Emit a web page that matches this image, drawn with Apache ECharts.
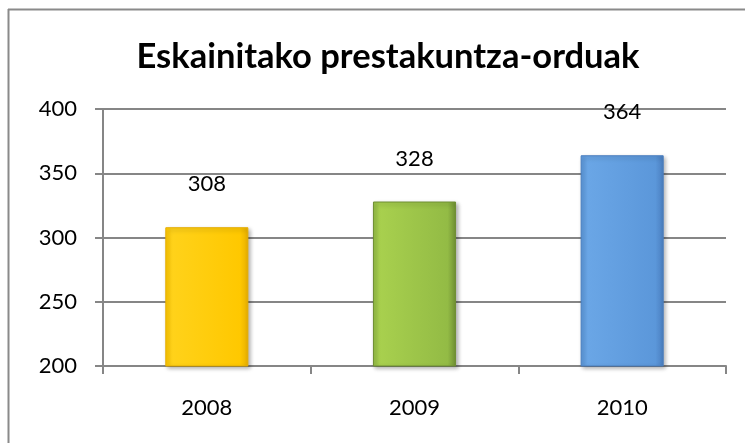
<!DOCTYPE html>
<html>
<head>
<meta charset="utf-8">
<script src="https://cdn.jsdelivr.net/npm/echarts@6/dist/echarts.min.js"></script>
<style>
  html, body { margin: 0; padding: 0; background: #fff; }
  #chart { width: 745px; height: 443px; }
</style>
</head>
<body>
<div id="chart"></div>
<script>
const years = ['2008', '2009', '2010']
const hours = [308, 328, 364]
const yTicks = [200, 250, 300, 350, 400]

// bar fills: edge, middle, dark edge
const barColors = [
  ['#FFD21A', '#FFC800', '#E6AE00'],
  ['#A8D04E', '#93BB45', '#6F8F33'],
  ['#6AA6E6', '#5B97DA', '#4A7EBF']
]

const chart = echarts.init(document.getElementById('chart'))

const font = 'Lato, "Open Sans", sans-serif'

const option = {
  animation: false,
  title: {
    text: 'Eskainitako prestakuntza-orduak',
    left: 383,
    top: 34,
    textAlign: 'center',
    textStyle: { fontFamily: font, fontSize: 34.5, fontWeight: 'bold', color: '#000' }
  },
  graphic: [
    { type: 'line', shape: { x1: 8, y1: 9.5, x2: 745, y2: 9.5 }, style: { stroke: '#8a8a8a', lineWidth: 2 } },
    { type: 'line', shape: { x1: 8.5, y1: 9, x2: 8.5, y2: 443 }, style: { stroke: '#8a8a8a', lineWidth: 2 } }
  ],
  grid: { left: 103, right: 19, top: 109, bottom: 77 },
  xAxis: {
    type: 'category',
    data: years,
    axisLine: { lineStyle: { color: '#868686', width: 2 } },
    axisTick: { show: true, length: 8, lineStyle: { color: '#868686', width: 2 } },
    axisLabel: { fontFamily: font, fontSize: 22, color: '#000', margin: 31 }
  },
  yAxis: {
    type: 'value',
    min: yTicks[0],
    max: yTicks[yTicks.length - 1],
    interval: 50,
    axisLine: { show: true, lineStyle: { color: '#868686', width: 2 } },
    axisTick: { show: true, length: 8, lineStyle: { color: '#868686', width: 2 } },
    axisLabel: { fontFamily: font, fontSize: 22, color: '#000', margin: 26 },
    splitLine: { lineStyle: { color: '#868686', width: 2 } }
  },
  series: [{
    type: 'bar',
    barWidth: '40%',
    data: hours.map((v, i) => ({
      value: v,
      itemStyle: {
        color: new echarts.graphic.LinearGradient(0, 0, 1, 0, [
          { offset: 0, color: barColors[i][1] },
          { offset: 0.08, color: barColors[i][0] },
          { offset: 0.9, color: barColors[i][1] },
          { offset: 1, color: barColors[i][2] }
        ]),
        borderColor: barColors[i][2],
        borderWidth: 1,
        shadowColor: 'rgba(0,0,0,0.3)',
        shadowBlur: 4,
        shadowOffsetX: 2,
        shadowOffsetY: 2
      }
    })),
    label: {
      show: true,
      position: 'top',
      distance: 32,
      fontFamily: font,
      fontSize: 22,
      color: '#000'
    }
  }]
}

chart.setOption(option)
</script>
</body>
</html>
